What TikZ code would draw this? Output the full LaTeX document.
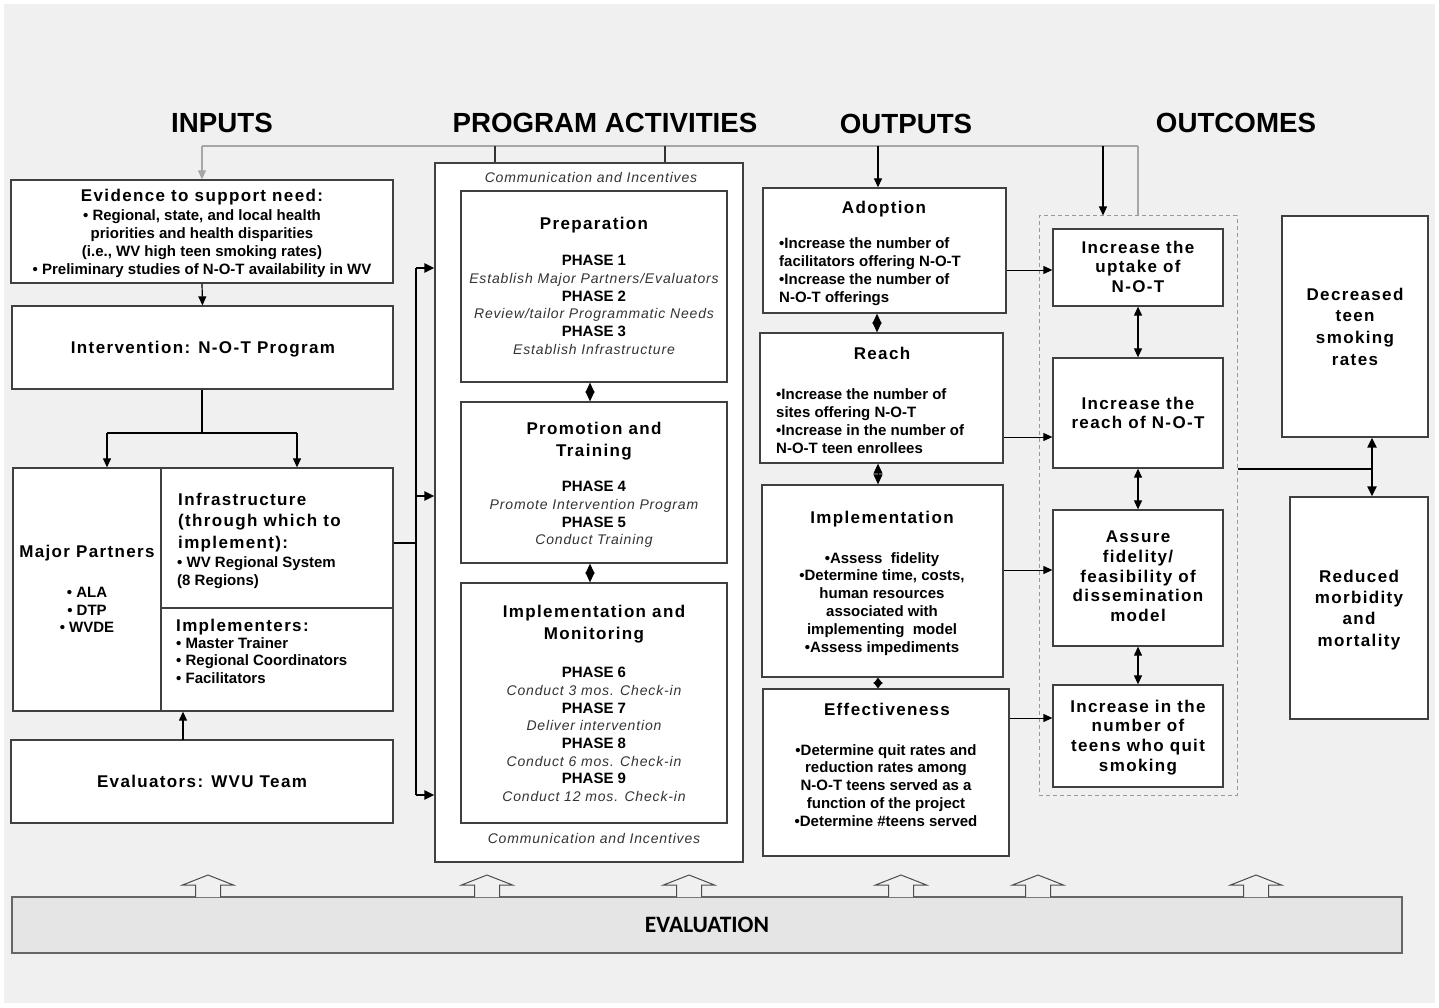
\documentclass[tikz,border=0pt]{standalone}
\usepackage{fontspec}
\setmainfont{Liberation Sans}
\newfontfamily\spfont{Liberation Sans}[LetterSpace=8]
\newfontfamily\itfont{Liberation Sans}[LetterSpace=6]
\newfontfamily\evfont{Carlito}
\usetikzlibrary{arrows.meta,fit}
\newcommand\PH[1]{{\bfseries #1}}
\newcommand\PI[1]{{\color{black!80}\itfont\itshape\fontsize{14}{17.7}\selectfont #1}}
\begin{document}
\begin{tikzpicture}[x=1pt,y=-1pt,
  box/.style={draw=black!75,line width=1.3pt,fill=white,inner sep=0pt},
  head/.style={font=\bfseries\fontsize{27.7}{30}\selectfont,anchor=base,inner sep=0pt},
  ttl/.style={font=\spfont\bfseries\fontsize{17}{20}\selectfont,anchor=base,inner sep=0pt},
  ttlm/.style={font=\spfont\bfseries\fontsize{17}{#1}\selectfont,anchor=north,inner sep=0pt,align=center},
  bod/.style={font=\bfseries\fontsize{15}{#1}\selectfont,anchor=north,inner sep=0pt,align=center},
  bodl/.style={font=\bfseries\fontsize{15}{#1}\selectfont,anchor=north west,inner sep=0pt,align=left},
  ph/.style={font=\fontsize{15}{17.7}\selectfont,anchor=north,inner sep=0pt,align=center},
  comm/.style={font=\itfont\itshape\fontsize{14}{16}\selectfont,text=black!80,anchor=base,inner sep=0pt},
  tip/.tip={Triangle[length=9pt,width=8pt]},
  arr/.style={line width=1.2pt,-tip},
  darr/.style={line width=1.2pt,tip-tip},
  dia/.style={line width=1pt,{Triangle[length=10pt,width=9pt]}-{Triangle[length=10pt,width=9pt]}},
  sdia/.style={line width=1pt,{Triangle[length=6pt,width=9pt]}-{Triangle[length=6pt,width=9pt]}},
  gline/.style={draw=black!35,line width=1.3pt},
  bus/.style={line width=2.2pt},
  busarr/.style={line width=2.2pt,-{Triangle[length=10pt,width=9pt]}},
  hollow/.style={draw=black!70,fill=gray!12,line width=1pt,line join=miter},
  dashbox/.style={draw=black!40,dashed,dash pattern=on 4pt off 3pt,line width=1pt,inner sep=0pt},
  evalbar/.style={draw=black!60,line width=1.6pt,fill=gray!20,inner sep=0pt}
]
\useasboundingbox (0,0) rectangle (1439,1008);
\fill[white] (0,0) rectangle (1439,1008);
\fill[black!6] (4,4) rectangle (1435,1003);

% headings
\node[head] (hin) at (222,133) {INPUTS};
\node[head] (hpa) at (605,133) {PROGRAM ACTIVITIES};
\node[head] (hout) at (906,134) {OUTPUTS};
\node[head] (hoc) at (1236,133) {OUTCOMES};

% INPUTS boxes
\node[box,fit={(11,180)(393,283)}] (evid) {};
\node[box,fit={(12,306)(393,389)}] (intv) {};
\node[box,fit={(13,468)(161,711)}] (mp) {};
\node[box,fit={(161,468)(393,608)}] (infra) {};
\node[box,fit={(161,608)(393,711)}] (impl) {};
\node[box,fit={(11,740)(393,823)}] (evalr) {};

\node[ttl] (evidt) at (202,202) {Evidence to support need:};
\node[bod=18] (evidb) at (202,209) {• Regional, state, and local health\\priorities and health disparities\\(i.e., WV high teen smoking rates)\\• Preliminary studies of N-O-T availability in WV};
\node[ttl] (intvt) at (203,353) {Intervention: N-O-T Program};
\node[ttl] (mpt) at (87,557) {Major Partners};
\node[bod=17.5] (mpb) at (87,587) {• ALA\\• DTP\\• WVDE};
\node[ttlm=21.5,anchor=north west,align=left] (infrat) at (178,492.6) {Infrastructure\\(through which to\\implement):};
\node[bodl=18] (infrab) at (177,556) {• WV Regional System\\(8 Regions)};
\node[ttl,anchor=base west] (implt) at (176,631) {Implementers:};
\node[bodl=17.5] (implb) at (176,637) {• Master Trainer\\• Regional Coordinators\\• Facilitators};
\node[ttl] (evalt) at (202,787) {Evaluators: WVU Team};

% PROGRAM ACTIVITIES
\node[box,fit={(435,163)(743,862)}] (pa) {};
\node[box,fit={(461,191)(727,382)}] (prep) {};
\node[box,fit={(461,402)(727,563)}] (prom) {};
\node[box,fit={(461,583)(727,823)}] (imon) {};
\node[comm] (ctop) at (591,183) {Communication and Incentives};
\node[comm] (cbot) at (594,843) {Communication and Incentives};
\node[ttl] (prept) at (594,230) {Preparation};
\node[ph] (prepb) at (594,255) {\PH{PHASE 1}\\\PI{Establish Major Partners/Evaluators}\\\PH{PHASE 2}\\\PI{Review/tailor Programmatic Needs}\\\PH{PHASE 3}\\\PI{Establish Infrastructure}};
\node[ttlm=22] (promt) at (594,421.6) {Promotion and\\Training};
\node[ph] (promb) at (594,481) {\PH{PHASE 4}\\\PI{Promote Intervention Program}\\\PH{PHASE 5}\\\PI{Conduct Training}};
\node[ttlm=22] (imont) at (594,604.6) {Implementation and\\Monitoring};
\node[ph] (imonb) at (594,667) {\PH{PHASE 6}\\\PI{Conduct 3 mos. Check-in}\\\PH{PHASE 7}\\\PI{Deliver intervention}\\\PH{PHASE 8}\\\PI{Conduct 6 mos. Check-in}\\\PH{PHASE 9}\\\PI{Conduct 12 mos. Check-in}};
\draw[dia] (prep.south -| 590,0) -- (prom.north -| 590,0);
\draw[dia] (prom.south -| 590,0) -- (imon.north -| 590,0);

% OUTPUTS
\node[box,fit={(763,188)(1006,313)}] (adopt) {};
\node[box,fit={(760,333)(1003,463)}] (reach) {};
\node[box,fit={(762,485)(1003,677)}] (implo) {};
\node[box,fit={(763,689)(1009,856)}] (eff) {};
\node[ttl] (adoptt) at (884,214) {Adoption};
\node[bodl=18] (adoptb) at (779,237) {•Increase the number of\\facilitators offering N-O-T\\•Increase the number of\\N-O-T offerings};
\node[ttl] (reacht) at (882,359) {Reach};
\node[bodl=18] (reachb) at (776,388) {•Increase the number of\\sites offering N-O-T\\•Increase in the number of\\N-O-T teen enrollees};
\node[ttl] (implot) at (882,523) {Implementation};
\node[bod=17.8] (implob) at (882,552) {•Assess\ \ fidelity\\•Determine time, costs,\\human resources\\associated with\\implementing\ \ model\\•Assess impediments};
\node[ttl] (efft) at (887,715) {Effectiveness};
\node[bod=17.75] (effb) at (886,744) {•Determine quit rates and\\reduction rates among\\N-O-T teens served as a\\function of the project\\•Determine \#teens served};
\draw[dia] (adopt.south -| 877,0) -- (reach.north -| 877,0);
\draw[dia] (reach.south -| 878,0) -- (implo.north -| 878,0);
\draw[sdia] (implo.south -| 878,0) -- (eff.north -| 878,0);

% OUTCOMES
\node[dashbox,fit={(1039,216)(1237,795)}] (dash) {};
\node[box,fit={(1053,229)(1223,306)}] (upt) {};
\node[box,fit={(1053,358)(1223,468)}] (rch) {};
\node[box,fit={(1053,510)(1223,646)}] (asr) {};
\node[box,fit={(1053,685)(1223,787)}] (inc) {};
\node[box,fit={(1282,216)(1428,437)}] (dec) {};
\node[box,fit={(1290,497)(1428,719)}] (red) {};
\node[ttlm=19.5] (uptt) at (1138,240.6) {Increase the\\uptake of\\N-O-T};
\node[ttlm=19] (rcht) at (1138,396.6) {Increase the\\reach of N-O-T};
\node[ttlm=19.75] (asrt) at (1138,530.6) {Assure\\fidelity/\\feasibility of\\dissemination\\model};
\node[ttlm=19.7] (inct) at (1138,699.6) {Increase in the\\number of\\teens who quit\\smoking};
\node[ttlm=21.7] (dect) at (1355,287.6) {Decreased\\teen\\smoking\\rates};
\node[ttlm=21.3] (redt) at (1359,569.6) {Reduced\\morbidity\\and\\mortality};
\draw[darr] (upt.south) -- (rch.north);
\draw[darr] (rch.south) -- (asr.north);
\draw[darr] (asr.south) -- (inc.north);
\draw[arr,line width=1pt] (adopt.east |- 0,270) -- (upt.west |- 0,270);
\draw[arr,line width=1pt] (reach.east |- 0,437) -- (rch.west |- 0,437);
\draw[arr,line width=1pt] (implo.east |- 0,570) -- (asr.west |- 0,570);
\draw[arr,line width=1pt] (eff.east |- 0,718) -- (inc.west |- 0,718);
\coordinate (rj) at (1372,469);
\draw[bus] (dash.east |- rj) -- (rj);
\draw[line width=2.2pt,{Triangle[length=10pt,width=9pt]}-{Triangle[length=10pt,width=9pt]}] (dec.south -| rj) -- (red.north -| rj);

% top connectors
\coordinate (tl) at (202,146);
\coordinate (tr) at (1138,146);
\coordinate (t1) at (495,146);
\coordinate (t2) at (665,146);
\coordinate (t3) at (878,146);
\coordinate (t4) at (1103,146);
\draw[gline] (tl) -- (tr);
\draw[gline,-tip] (tl) -- (evid.north);
\draw[gline] (tr) -- (tr |- dash.north);
\draw[line width=1.2pt,black!80] (t1) -- (t1 |- pa.north);
\draw[line width=1.2pt,black!80] (t2) -- (t2 |- pa.north);
\draw[arr] (t3) -- (t3 |- adopt.north);
\draw[arr] (t4) -- (t4 |- dash.north);

% inputs connectors
\draw[arr] (evid.south) -- (intv.north);
\coordinate (sp) at (202,433);
\coordinate (spl) at (107,433);
\coordinate (spr) at (297,433);
\draw[line width=1.2pt] (intv.south -| sp) -- (sp);
\draw[line width=1.2pt] (spl) -- (spr);
\draw[arr] (spl) -- (spl |- mp.north);
\draw[arr] (spr) -- (spr |- infra.north);
\coordinate (ev) at (183,740);
\draw[arr] (ev) -- (ev |- impl.south);

% bus to program activities
\coordinate (bj) at (infra.east |- 0,543);
\coordinate (bx) at (416,543);
\coordinate (b1) at (416,268);
\coordinate (b2) at (416,496);
\coordinate (b3) at (416,795);
\draw[bus] (bj) -- (bx);
\draw[bus] (b1) -- (b3);
\draw[busarr] (b1) -- (b1 -| pa.west);
\draw[busarr] (b2) -- (b2 -| pa.west);
\draw[busarr] (b3) -- (b3 -| pa.west);

% evaluation
\node[evalbar,minimum width=1390pt,minimum height=56pt,font=\evfont\bfseries\fontsize{23.5}{26}\selectfont] (evalbar) at (707,925) {EVALUATION};
\foreach \x in {208,487,689,901,1038,1256}{
  \draw[hollow] ({\x-12.5},897) -- ({\x-12.5},885) -- ({\x-25.5},885) -- (\x,875) -- ({\x+25.5},885) -- ({\x+12.5},885) -- ({\x+12.5},897);
}
\end{tikzpicture}
\end{document}
